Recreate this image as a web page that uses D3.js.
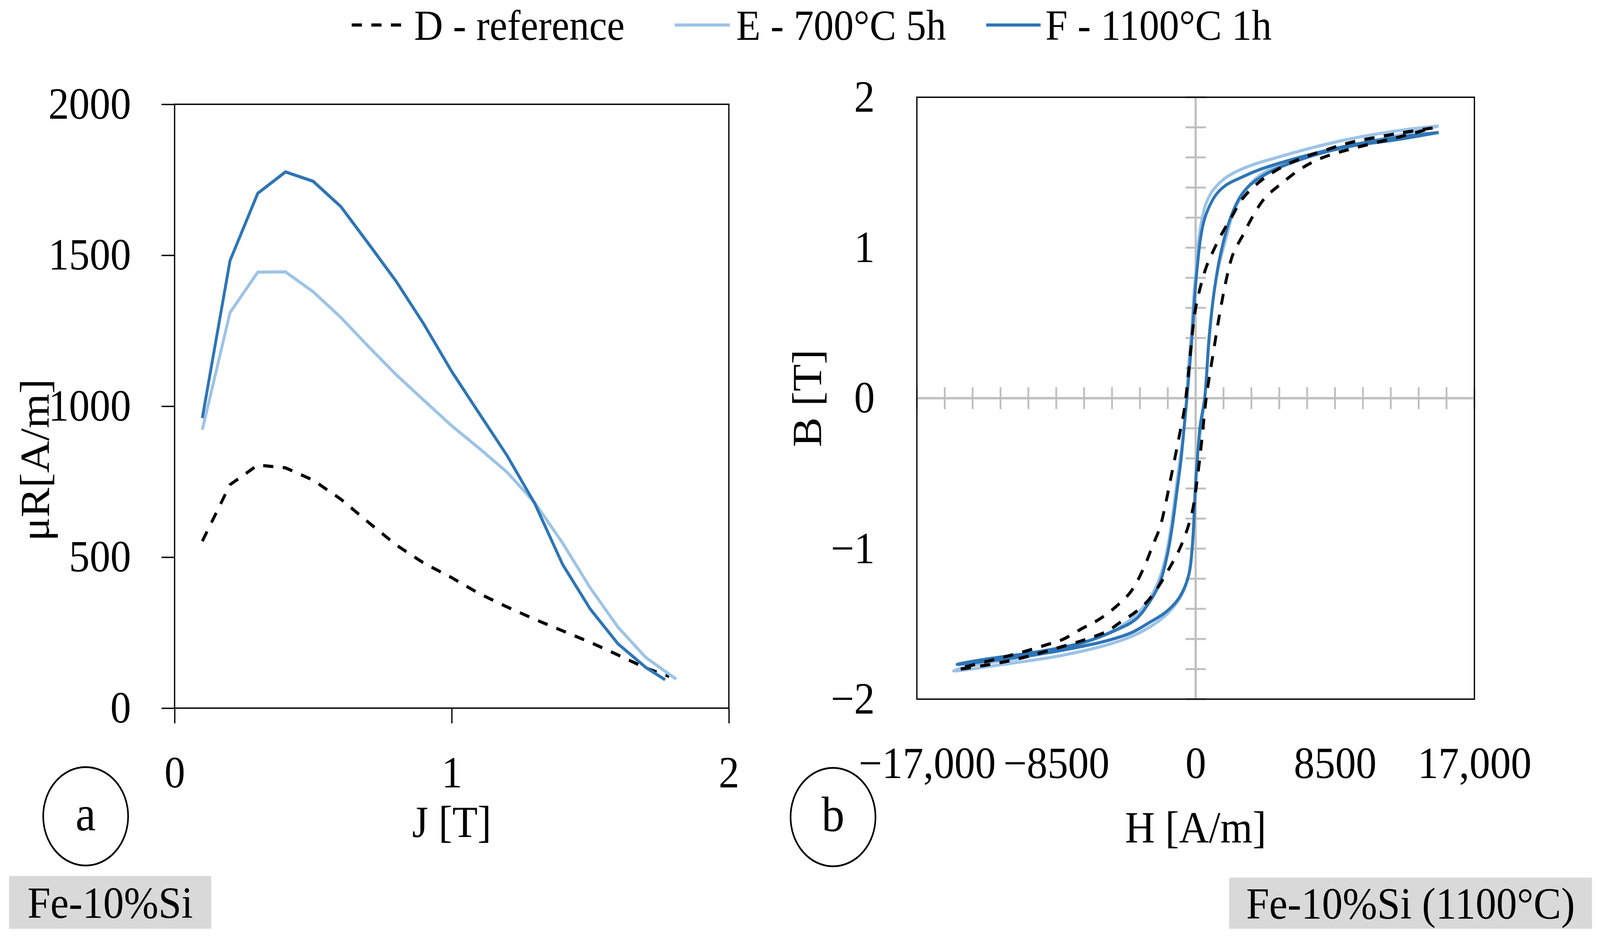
<!DOCTYPE html>
<html>
<head>
<meta charset="utf-8">
<script src="https://cdn.jsdelivr.net/npm/d3@7"></script>
<style>
html,body{margin:0;padding:0;background:#fff;width:100%;height:100%;overflow:hidden;}
svg{display:block;position:fixed;left:0;top:0;width:100vw;height:100vh;}
</style>
</head>
<body>
<svg id="chart" viewBox="0 0 4408 2399" preserveAspectRatio="none"></svg>
<script>
// ---------------- DATA ----------------
const seriesNames = ["D - reference", "E - 700°C 5h", "F - 1100°C 1h"];
const seriesColors = ["#000000", "#9dc3e6", "#2e75b6"];

// Panel a: relative permeability vs polarization
const jD = [0.1,0.2,0.3,0.4,0.5,0.6,0.7,0.8,0.9,1.0,1.1,1.2,1.3,1.4,1.5,1.6,1.7,1.785];
const muD = [553,740,805,796,755,692,615,540,480,432,379,335,294,256,218,176,133,105];
const jE = [0.1,0.2,0.3,0.4,0.5,0.6,0.7,0.8,0.9,1.0,1.1,1.2,1.3,1.4,1.5,1.6,1.7,1.81];
const muE = [922,1310,1444,1445,1379,1294,1197,1104,1019,935,860,781,680,547,398,268,168,96];
const jF = [0.1,0.2,0.3,0.4,0.5,0.6,0.7,0.8,0.9,1.0,1.1,1.2,1.3,1.4,1.5,1.6,1.7,1.77];
const muF = [961,1482,1705,1776,1745,1661,1538,1413,1271,1115,975,836,677,476,328,213,135,94];

// Panel b: hysteresis loops (descending branch, then ascending branch)
const hD = [14450,12375,9410,7930,6450,5110,3930,2890,2150,1556,1110,667,296,-44,-296,-520,-687,-983,-1205,-1502,-1798,-2169,-2613,-3206,-3947,-4836,-5874,-6911,-8097,-9134,-10616,-12098,-14469,
  -12839,-11357,-9875,-7800,-6615,-5429,-4540,-3650,-2910,-2317,-1576,-983,-538,-167,129,351,560,680,1110,1480,1926,2297,2890,3480,4220,5260,6450,7630,9410,12375,14450];
const bD = [1.796,1.76,1.698,1.649,1.594,1.527,1.441,1.33,1.196,1.085,0.987,0.877,0.742,0.57,0.325,0.08,-0.071,-0.243,-0.365,-0.525,-0.684,-0.856,-0.978,-1.138,-1.285,-1.383,-1.469,-1.53,-1.603,-1.64,-1.689,-1.732,-1.80,
  -1.775,-1.745,-1.705,-1.64,-1.6,-1.55,-1.485,-1.42,-1.346,-1.26,-1.125,-1.003,-0.88,-0.733,-0.512,-0.304,-0.08,0.03,0.325,0.57,0.816,0.963,1.085,1.208,1.33,1.429,1.527,1.594,1.655,1.735,1.796];

const hE = [14820,12375,9410,7190,4965,3480,2300,1556,963,593,370,193,44,-104,-252,-445,-560,-760,-983,-1205,-1502,-1872,-2391,-3058,-3947,-5429,-7652,-10616,-13580,-14766,
  -11357,-8393,-5429,-3947,-2762,-1724,-983,-538,-316,-167,-63,56,300,560,845,1110,1410,1850,2300,2890,3480,4220,5260,6450,7930,9410,12375,14820];
const bE = [1.809,1.778,1.723,1.667,1.6,1.551,1.496,1.441,1.367,1.281,1.183,1.06,0.877,0.693,0.448,0.203,0.0,-0.243,-0.426,-0.61,-0.855,-1.076,-1.248,-1.37,-1.469,-1.567,-1.653,-1.726,-1.775,-1.812,
  -1.763,-1.714,-1.64,-1.585,-1.518,-1.432,-1.334,-1.223,-1.1,-0.917,-0.672,-0.426,-0.218,0.0,0.399,0.693,0.877,1.06,1.232,1.355,1.441,1.502,1.551,1.594,1.637,1.674,1.748,1.809];

const hF = [14820,12375,9410,7190,4965,3780,2740,1850,1260,815,519,296,104,-44,-193,-370,-530,-687,-909,-1131,-1428,-1724,-2169,-2762,-3650,-4836,-6911,-9875,-12839,-14543,
  -11357,-8393,-5429,-3947,-2762,-1872,-1131,-687,-390,-242,-123,-20,129,277,550,815,1110,1480,2075,2670,3190,3930,4965,6450,7930,9410,12375,14820];
const bF = [1.766,1.735,1.68,1.625,1.557,1.514,1.465,1.416,1.355,1.27,1.183,1.06,0.877,0.693,0.448,0.203,0.0,-0.18,-0.426,-0.61,-0.855,-1.04,-1.223,-1.346,-1.469,-1.54,-1.625,-1.69,-1.735,-1.769,
  -1.728,-1.68,-1.612,-1.56,-1.487,-1.426,-1.346,-1.26,-1.162,-1.04,-0.856,-0.61,-0.365,-0.181,0.0,0.399,0.693,0.938,1.183,1.33,1.404,1.466,1.527,1.588,1.637,1.674,1.72,1.766];

// Tick values and labels
const muTickValues = [0, 500, 1000, 1500, 2000];
const jTickValues = [0, 1, 2];
const bTickValues = [-2, -1, 0, 1, 2];
const hTickValues = [-17000, -8500, 0, 8500, 17000];
const hTickLabels = ["\u221217,000", "\u22128500", "0", "8500", "17,000"];
const bTickLabels = ["\u22122", "\u22121", "0", "1", "2"];

// Text
const axisTitles = { aX: "J [T]", aY: "\u03bcR[A/m]", bX: "H [A/m]", bY: "B [T]" };
const panelLetters = ["a", "b"];
const boxLabels = ["Fe-10%Si", "Fe-10%Si (1100\u00b0C)"];

// ---------------- DRAWING ----------------
const FONT = "'Liberation Serif','Times New Roman',serif";
const FS = 114;
const LW = 8;
const DASH = "28,26";
const svg = d3.select("#chart");
svg.append("rect").attr("width", 4408).attr("height", 2399).attr("fill", "#fff");

function styleText(sel, size) {
  sel.attr("font-family", FONT).attr("font-size", size || FS).attr("fill", "#000");
}

// ===== Panel a =====
const xJ = d3.scaleLinear().domain([0, 2]).range([481, 2008]);
const yMu = d3.scaleLinear().domain([0, 2000]).range([1813, 267]);

const gA = svg.append("g");
gA.append("rect")
  .attr("x", xJ(0)).attr("y", yMu(2000))
  .attr("width", xJ(2) - xJ(0)).attr("height", yMu(0) - yMu(2000))
  .attr("fill", "none").attr("stroke", "#000").attr("stroke-width", 3.5);

gA.append("g").attr("transform", `translate(${xJ(0)},0)`)
  .call(d3.axisLeft(yMu).tickValues(muTickValues).tickSize(36).tickSizeOuter(0).tickPadding(84)
    .tickFormat(d3.format("d")))
  .call(g => g.select(".domain").remove())
  .call(g => g.selectAll(".tick line").attr("stroke", "#000").attr("stroke-width", 3.5))
  .call(g => styleText(g.selectAll(".tick text")));

gA.append("g").attr("transform", `translate(0,${yMu(0)})`)
  .call(d3.axisBottom(xJ).tickValues(jTickValues).tickSize(39).tickSizeOuter(0).tickPadding(83)
    .tickFormat(d3.format("d")))
  .call(g => g.select(".domain").remove())
  .call(g => g.selectAll(".tick line").attr("stroke", "#000").attr("stroke-width", 3.5))
  .call(g => styleText(g.selectAll(".tick text")));

const lineA = d3.line().x(d => xJ(d[0])).y(d => yMu(d[1]));
const aSeries = [
  { j: jD, v: muD, c: seriesColors[0], dash: DASH },
  { j: jE, v: muE, c: seriesColors[1], dash: null },
  { j: jF, v: muF, c: seriesColors[2], dash: null }
];
aSeries.forEach(s => {
  gA.append("path")
    .attr("d", lineA(s.j.map((j, i) => [j, s.v[i]])))
    .attr("fill", "none").attr("stroke", s.c).attr("stroke-width", LW)
    .attr("stroke-linejoin", "round")
    .attr("stroke-dasharray", s.dash);
});

gA.append("text").text(axisTitles.aX)
  .attr("x", xJ(1)).attr("y", 2143).attr("text-anchor", "middle").call(styleText);
gA.append("text").text(axisTitles.aY)
  .attr("transform", `translate(134,1178) rotate(-90)`)
  .attr("text-anchor", "middle").call(styleText);

// ===== Panel b =====
const xH = d3.scaleLinear().domain([-17000, 17000]).range([2526, 4062]);
const yB = d3.scaleLinear().domain([-2, 2]).range([1790, 249]);
const gB = svg.append("g");
const GRAY = "#bfbfbf";

// gray zero axes with crossing minor ticks
gB.append("line").attr("x1", xH(-17000)).attr("x2", xH(17000)).attr("y1", yB(0)).attr("y2", yB(0))
  .attr("stroke", GRAY).attr("stroke-width", 6);
gB.append("line").attr("x1", xH(0)).attr("x2", xH(0)).attr("y1", yB(2)).attr("y2", yB(-2))
  .attr("stroke", GRAY).attr("stroke-width", 6);
gB.append("g").selectAll("line").data(d3.range(-17000, 17001, 1700)).join("line")
  .attr("x1", d => xH(d)).attr("x2", d => xH(d))
  .attr("y1", yB(0) - 28).attr("y2", yB(0) + 28)
  .attr("stroke", GRAY).attr("stroke-width", 5);
gB.append("g").selectAll("line").data(d3.range(-10, 11).map(k => k * 0.2)).join("line")
  .attr("x1", xH(0) - 28).attr("x2", xH(0) + 28)
  .attr("y1", d => yB(d)).attr("y2", d => yB(d))
  .attr("stroke", GRAY).attr("stroke-width", 5);

gB.append("rect")
  .attr("x", xH(-17000)).attr("y", yB(2))
  .attr("width", xH(17000) - xH(-17000)).attr("height", yB(-2) - yB(2))
  .attr("fill", "none").attr("stroke", "#000").attr("stroke-width", 3.5);

gB.append("g").attr("transform", `translate(${xH(-17000)},0)`)
  .call(d3.axisLeft(yB).tickValues(bTickValues).tickSize(0).tickPadding(116)
    .tickFormat((d, i) => bTickLabels[i]))
  .call(g => g.select(".domain").remove())
  .call(g => styleText(g.selectAll(".tick text")));

gB.append("g").attr("transform", `translate(0,${yB(-2)})`)
  .call(d3.axisBottom(xH).tickValues(hTickValues).tickSize(0).tickPadding(121)
    .tickFormat((d, i) => hTickLabels[i]))
  .call(g => g.select(".domain").remove())
  .call(g => styleText(g.selectAll(".tick text")))
  .call(g => g.selectAll(".tick text").filter(d => d === -17000).attr("dx", 28));

const lineB = d3.line().x(d => xH(d[0])).y(d => yB(d[1])).curve(d3.curveCatmullRom.alpha(0.5));
const bSeries = [
  { h: hE, b: bE, c: seriesColors[1], dash: null },
  { h: hF, b: bF, c: seriesColors[2], dash: null },
  { h: hD, b: bD, c: seriesColors[0], dash: DASH }
];
bSeries.forEach(s => {
  gB.append("path")
    .attr("d", lineB(s.h.map((h, i) => [h, s.b[i]])))
    .attr("fill", "none").attr("stroke", s.c).attr("stroke-width", LW)
    .attr("stroke-linejoin", "round")
    .attr("stroke-dasharray", s.dash);
});

gB.append("text").text(axisTitles.bX)
  .attr("x", xH(0)).attr("y", 2157).attr("text-anchor", "middle").call(styleText);
gB.append("text").text(axisTitles.bY)
  .attr("transform", `translate(2262,${yB(0)}) rotate(-90)`)
  .attr("text-anchor", "middle").call(styleText);

// ===== Legend =====
const legendItems = [
  { x1: 969, x2: 1115, tx: 1141 },
  { x1: 1859, x2: 2011, tx: 2028 },
  { x1: 2717, x2: 2867, tx: 2880 }
];
const gL = svg.append("g");
legendItems.forEach((it, i) => {
  gL.append("line").attr("x1", it.x1).attr("x2", it.x2).attr("y1", 64).attr("y2", 64)
    .attr("stroke", seriesColors[i]).attr("stroke-width", LW)
    .attr("stroke-dasharray", i === 0 ? DASH : null);
  gL.append("text").text(seriesNames[i]).attr("x", it.tx).attr("y", 102).call(s => styleText(s, 110));
});

// ===== Panel letters =====
const letterPos = [[236, 2090], [2295, 2092]];
panelLetters.forEach((l, i) => {
  svg.append("ellipse").attr("cx", letterPos[i][0]).attr("cy", letterPos[i][1])
    .attr("rx", 117).attr("ry", 126)
    .attr("fill", "none").attr("stroke", "#000").attr("stroke-width", 4.5);
  svg.append("text").text(l).attr("x", letterPos[i][0]).attr("y", letterPos[i][1] + 36)
    .attr("text-anchor", "middle").call(s => styleText(s, 126));
});

// ===== Gray labels =====
const boxPos = [{ x: 25, y: 2243, w: 557, h: 135 }, { x: 3386, y: 2247, w: 1000, h: 131 }];
boxLabels.forEach((t, i) => {
  const p = boxPos[i];
  svg.append("rect").attr("x", p.x).attr("y", p.y).attr("width", p.w).attr("height", p.h)
    .attr("fill", "#d9d9d9");
  svg.append("text").text(t).attr("x", p.x + p.w / 2).attr("y", p.y + p.h / 2 + 40)
    .attr("text-anchor", "middle").call(styleText);
});
</script>
</body>
</html>
